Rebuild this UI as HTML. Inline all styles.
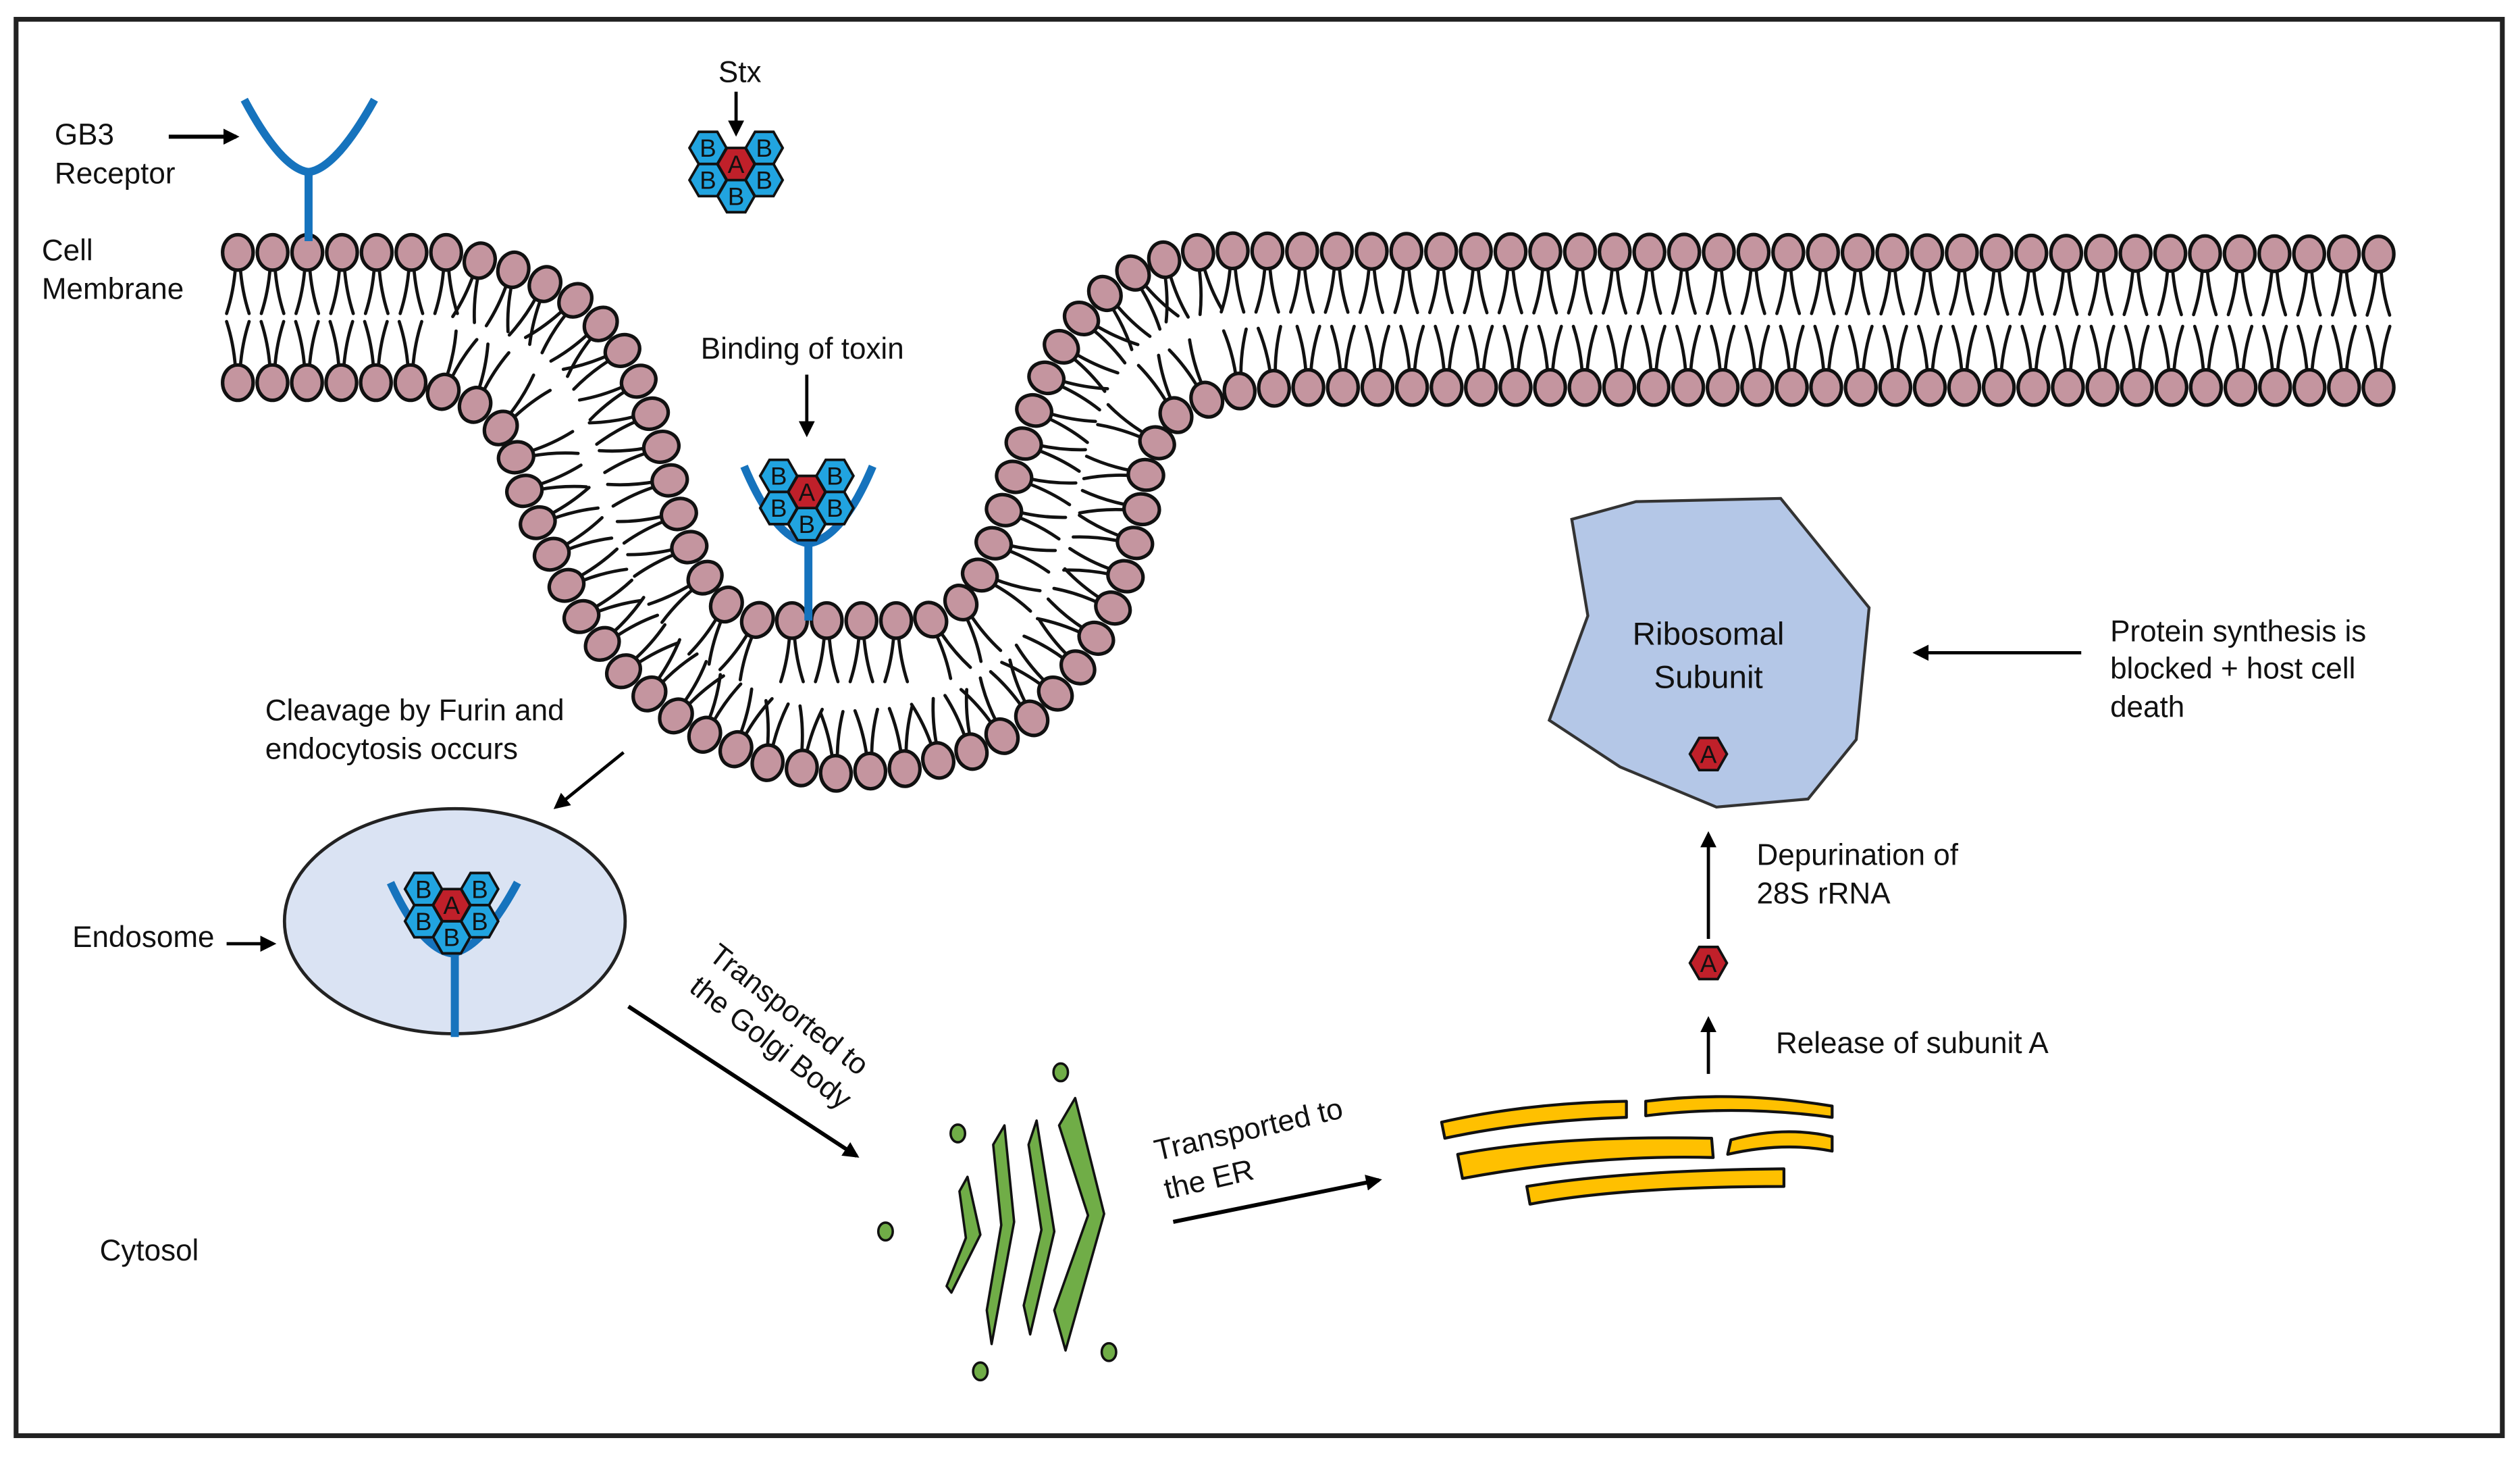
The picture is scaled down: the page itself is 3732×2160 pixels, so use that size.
<!DOCTYPE html>
<html><head><meta charset="utf-8"><style>
html,body{margin:0;padding:0;background:#fff}
svg{display:block}
text{font-family:"Liberation Sans",sans-serif;font-size:18.5px;fill:#111}
</style></head><body>
<svg id="s" width="3732" height="2160" viewBox="0 0 1568 907.5" xmlns="http://www.w3.org/2000/svg">
<defs>
<marker id="ah" markerWidth="10" markerHeight="10" refX="8" refY="5" orient="auto" markerUnits="userSpaceOnUse"><path d="M0,0 L10,5 L0,10 z" fill="#000"/></marker>
</defs>
<rect x="10" y="12" width="1547" height="881" fill="#fff" stroke="#222" stroke-width="3"/>
<g id="mem"></g>

<path d="M152,62 Q175,105 192,107 Q209,105 233,62" fill="none" stroke="#1673bd" stroke-width="5"/>
<line x1="192" y1="105" x2="192" y2="150" stroke="#1673bd" stroke-width="5"/>
<text x="34" y="90">GB3</text><text x="34" y="114">Receptor</text>
<line x1="105" y1="85" x2="147" y2="85" stroke="#000" stroke-width="2.5" marker-end="url(#ah)"/>
<text x="26" y="162">Cell</text><text x="26" y="186">Membrane</text>

<text x="447" y="51">Stx</text>
<line x1="458" y1="57" x2="458" y2="83" stroke="#000" stroke-width="2" marker-end="url(#ah)"/>
<g id="tox1"></g>

<text x="436" y="223">Binding of toxin</text>
<line x1="502" y1="233" x2="502" y2="270" stroke="#000" stroke-width="2" marker-end="url(#ah)"/>
<path d="M463,290 Q482,335 503,338 Q524,335 543,290" fill="none" stroke="#1673bd" stroke-width="5"/>
<line x1="503" y1="336" x2="503" y2="386" stroke="#1673bd" stroke-width="5"/>
<g id="tox2"></g>

<text x="165" y="448">Cleavage by Furin and</text><text x="165" y="472">endocytosis occurs</text>
<line x1="388" y1="468" x2="346" y2="502" stroke="#000" stroke-width="2" marker-end="url(#ah)"/>

<ellipse cx="283" cy="573" rx="106" ry="70" fill="#dae3f3" stroke="#222" stroke-width="2"/>
<path d="M243,549 Q262,590 281,593 Q300,590 322,549" fill="none" stroke="#1673bd" stroke-width="5"/>
<line x1="283" y1="590" x2="283" y2="645" stroke="#1673bd" stroke-width="5"/>
<g id="tox3"></g>
<text x="45" y="589">Endosome</text>
<line x1="141" y1="587" x2="170" y2="587" stroke="#000" stroke-width="2" marker-end="url(#ah)"/>

<text transform="translate(440,596) rotate(38)">Transported to</text>
<text transform="translate(428,616) rotate(38)">the Golgi Body</text>
<line x1="391" y1="626" x2="533" y2="719" stroke="#000" stroke-width="2.5" marker-end="url(#ah)"/>

<g fill="#70ad47" stroke="#111" stroke-width="1.5" stroke-linejoin="round">
<polygon points="602,732 610,768 592,804 589,800 601,770 597,741"/>
<polygon points="625,700 631,760 617,836 614,815 623,762 618,712"/>
<polygon points="645,697 656,766 641,830 637,812 648,765 640,712"/>
<polygon points="669,683 687,755 663,840 656,815 677,756 659,700"/>
<ellipse cx="660" cy="667" rx="4.5" ry="5.5"/><ellipse cx="596" cy="705" rx="4.5" ry="5.5"/>
<ellipse cx="551" cy="766" rx="4.5" ry="5.5"/><ellipse cx="610" cy="853" rx="4.5" ry="5.5"/>
<ellipse cx="690" cy="841" rx="4.5" ry="5.5"/>
</g>

<text transform="translate(720,722) rotate(-13)">Transported to</text>
<text transform="translate(726,746) rotate(-13)">the ER</text>
<line x1="730" y1="760" x2="858" y2="734" stroke="#000" stroke-width="2.5" marker-end="url(#ah)"/>

<g fill="#ffc000" stroke="#111" stroke-width="1.8" stroke-linejoin="round">
<path d="M897,698 Q950,686 1012,685 L1012,695 Q950,697 899,708 Z"/>
<path d="M1024,685 Q1080,678 1140,688 L1140,695 Q1080,687 1024,694 Z"/>
<path d="M907,718 Q970,706 1065,708 L1066,720 Q990,718 910,733 Z"/>
<path d="M1077,709 Q1110,700 1140,707 L1140,716 Q1110,710 1075,718 Z"/>
<path d="M950,738 Q1010,728 1110,727 L1110,738 Q1010,738 952,749 Z"/>
</g>

<text x="1105" y="655">Release of subunit A</text>
<line x1="1063" y1="668" x2="1063" y2="634" stroke="#000" stroke-width="2" marker-end="url(#ah)"/>
<g id="a1"></g>
<line x1="1063" y1="584" x2="1063" y2="519" stroke="#000" stroke-width="2" marker-end="url(#ah)"/>
<text x="1093" y="538">Depurination of</text><text x="1093" y="562">28S rRNA</text>

<polygon points="978,323 1018,312 1108,310 1163,378 1155,460 1125,497 1068,502 1008,477 964,448 988,383" fill="#b4c7e7" stroke="#333" stroke-width="1.8"/>
<text x="1063" y="401" text-anchor="middle" style="font-size:20px">Ribosomal</text>
<text x="1063" y="428" text-anchor="middle" style="font-size:20px">Subunit</text>
<g id="a2"></g>

<text x="1313" y="399">Protein synthesis is</text><text x="1313" y="422">blocked + host cell</text><text x="1313" y="446">death</text>
<line x1="1295" y1="406" x2="1192" y2="406" stroke="#000" stroke-width="2" marker-end="url(#ah)"/>

<text x="62" y="784">Cytosol</text>
</svg>
<script>
var NS="http://www.w3.org/2000/svg";
function el(p,t,a){var e=document.createElementNS(NS,t);for(var k in a)e.setAttribute(k,a[k]);p.appendChild(e);return e;}
function hex(p,cx,cy,r,fill,lab){
  var pts=[];for(var i=0;i<6;i++){var a=Math.PI/3*i;pts.push((cx+r*Math.cos(a)).toFixed(1)+","+(cy+r*Math.sin(a)).toFixed(1));}
  el(p,"polygon",{points:pts.join(" "),fill:fill,stroke:"#111","stroke-width":1.6});
  var t=el(p,"text",{x:cx,y:cy+5.5,"text-anchor":"middle",style:"font-size:15.5px"});t.textContent=lab;
}
function tox(id,cx,cy){
  var g=document.getElementById(id),r=11.5,dx=17.5,dy=10;
  hex(g,cx-dx,cy-dy,r,"#21a4e0","B");hex(g,cx+dx,cy-dy,r,"#21a4e0","B");
  hex(g,cx-dx,cy+dy,r,"#21a4e0","B");hex(g,cx+dx,cy+dy,r,"#21a4e0","B");
  hex(g,cx,cy+2*dy,r,"#21a4e0","B");hex(g,cx,cy,r,"#c0202a","A");
}
tox("tox1",458,102);tox("tox2",502,306);tox("tox3",281,563);
hex(document.getElementById("a1"),1063,599,11.5,"#c0202a","A");
hex(document.getElementById("a2"),1063,469,11.5,"#c0202a","A");

function sample(pts,sp){
  var out=[];var segs=[];var total=0;
  for(var i=0;i<pts.length-1;i++){var dx=pts[i+1][0]-pts[i][0],dy=pts[i+1][1]-pts[i][1],L=Math.hypot(dx,dy);segs.push([pts[i],dx/L,dy/L,L]);total+=L;}
  var n=Math.round(total/sp);sp=total/n;
  for(var k=0;k<=n;k++){
    var d=k*sp;
    for(var j=0;j<segs.length;j++){if(d<=segs[j][3]+1e-6||j==segs.length-1){var s=segs[j];out.push([s[0][0]+s[1]*d,s[0][1]+s[2]*d,s[1],s[2]]);break;}d-=segs[j][3];}
  }
  return out;
}
function leaflet(pts,sign){
  var g=document.getElementById("mem");
  var s=sample(pts,21.6);
  var tails=el(g,"g",{fill:"none",stroke:"#111","stroke-width":2,"stroke-linecap":"round"});
  var heads=el(g,"g",{fill:"#c4959f",stroke:"#111","stroke-width":2.2});
  s.forEach(function(p){
    var tx=p[2],ty=p[3],nx=-ty*sign,ny=tx*sign;
    var L=38;
    [-1,1].forEach(function(o){
      var sx=p[0]+nx*9+tx*o*1.5,sy=p[1]+ny*9+ty*o*1.5;
      var ex=p[0]+nx*L+tx*o*7,ey=p[1]+ny*L+ty*o*7;
      var mx=p[0]+nx*24+tx*o*2.5,my=p[1]+ny*24+ty*o*2.5;
      el(tails,"path",{d:"M"+sx.toFixed(1)+","+sy.toFixed(1)+" Q"+mx.toFixed(1)+","+my.toFixed(1)+" "+ex.toFixed(1)+","+ey.toFixed(1)});
    });
    var ang=Math.atan2(ny,nx)*180/Math.PI;
    el(heads,"ellipse",{cx:p[0].toFixed(1),cy:p[1].toFixed(1),rx:11,ry:9.5,transform:"rotate("+ang.toFixed(1)+" "+p[0].toFixed(1)+" "+p[1].toFixed(1)+")"});
  });
}
leaflet([[148,157],[280,157],[320,168],[355,184],[383,210],[399,240],[410,272],[420,312],[432,350],[450,375],[472,386],[578,386],[603,372],[617,342],[630,300],[641,262],[656,222],[680,188],[713,164],[750,156],[1480,158]],1);
leaflet([[148,238],[262,238],[296,252],[318,272],[327,308],[343,344],[362,384],[390,420],[430,453],[475,474],[520,481],[565,478],[610,466],[645,445],[675,410],[697,370],[709,328],[714,287],[728,260],[760,244],[800,241],[1480,241]],-1);
</script>
</body></html>
